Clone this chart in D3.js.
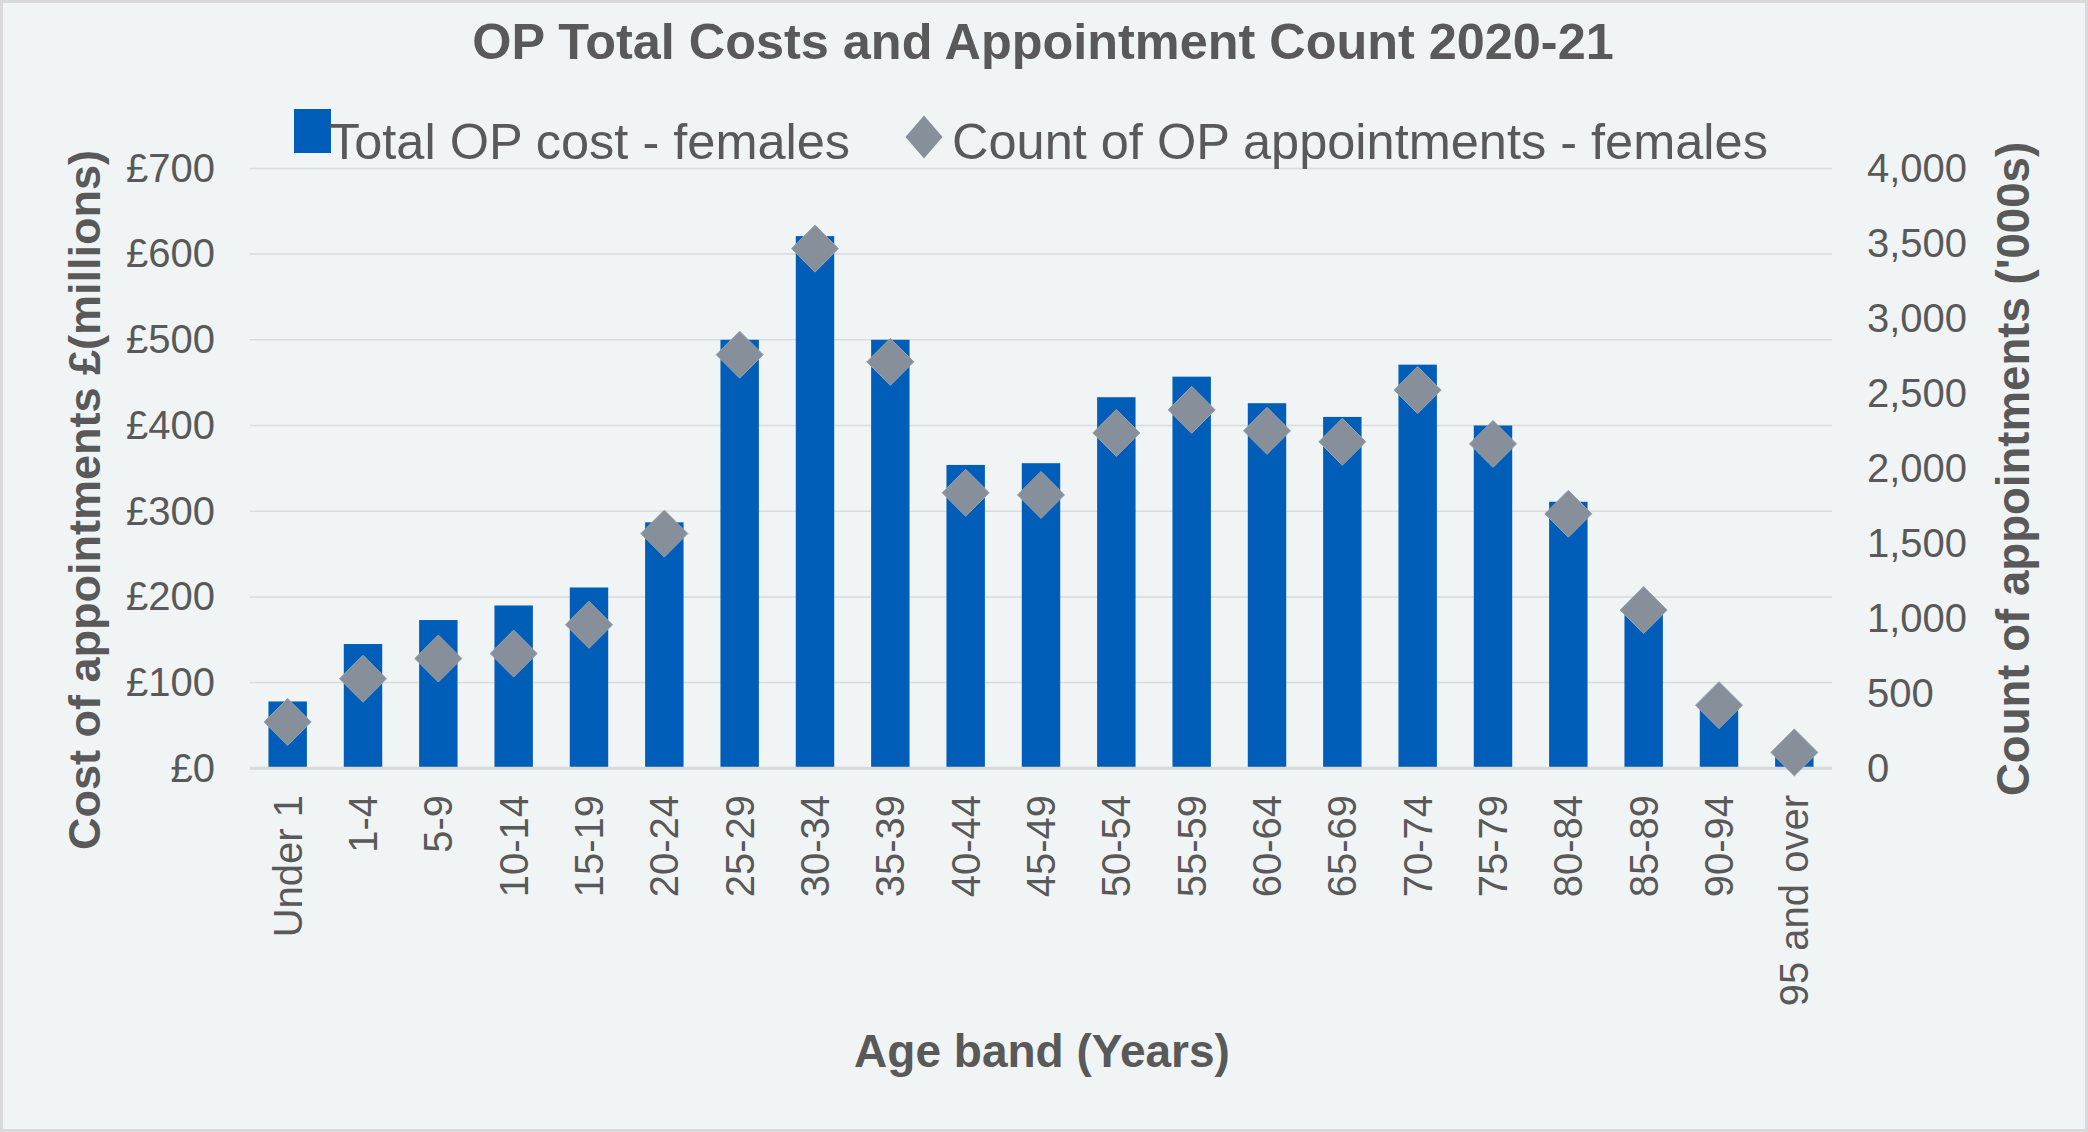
<!DOCTYPE html>
<html>
<head>
<meta charset="utf-8">
<script src="https://cdn.jsdelivr.net/npm/d3@7"></script>
<style>
  html, body { margin: 0; padding: 0; background: #F0F4F5; }
  svg { display: block; font-family: "Liberation Sans", Arial, sans-serif; }
</style>
</head>
<body>
<svg id="chart"></svg>
<script>
// Age bands along the bottom
const categories = ["Under 1", "1-4", "5-9", "10-14", "15-19", "20-24", "25-29", "30-34", "35-39",
    "40-44", "45-49", "50-54", "55-59", "60-64", "65-69", "70-74", "75-79", "80-84", "85-89",
    "90-94", "95 and over"];

// Total OP cost - females, £ millions
const costValues = [78, 145, 173, 190, 211, 287, 500, 621, 500, 354, 356, 433, 457, 426, 410,
    471, 400, 311, 190, 78, 16];

// Count of OP appointments - females, '000s
const countValues = [309, 597, 732, 765, 957, 1565, 2758, 3465, 2710, 1837, 1823, 2236, 2390,
    2250, 2177, 2522, 2163, 1697, 1055, 421, 106];

const leftTicks = [0, 100, 200, 300, 400, 500, 600, 700];
const rightTicks = [0, 500, 1000, 1500, 2000, 2500, 3000, 3500, 4000];

const seriesNames = ["Total OP cost - females", "Count of OP appointments - females"];

// Canvas settings
const width = 2088;
const height = 1132;
const margin = {top: 168.4, right: 256, bottom: 363.7, left: 250};

const BAR_COLOR = '#005EB8';
const MARKER_COLOR = '#87909A';
const TEXT_COLOR = '#595959';
const GRID_COLOR = '#D9DBDD';
const DIAMOND = 23.5; // half diagonal

const svg = d3.select('svg#chart')
    .attr('width', width)
    .attr('height', height);

// background and outer border
svg.append('rect')
    .attr('x', 1.5).attr('y', 1.5)
    .attr('width', width - 3).attr('height', height - 3)
    .attr('fill', '#F0F4F5')
    .attr('stroke', '#D9D9D9')
    .attr('stroke-width', 3);

const x = d3.scaleBand()
    .domain(categories)
    .range([margin.left, width - margin.right])
    .paddingInner(0.49)
    .paddingOuter(0.245);

const yLeft = d3.scaleLinear()
    .domain([0, 700])
    .range([height - margin.bottom, margin.top]);

const yRight = d3.scaleLinear()
    .domain([0, 4000])
    .range([height - margin.bottom, margin.top]);

// Gridlines (from the left axis)
svg.append('g')
    .selectAll('line')
    .data(leftTicks.slice(1))
    .enter().append('line')
    .attr('x1', margin.left)
    .attr('x2', width - margin.right)
    .attr('y1', d => yLeft(d))
    .attr('y2', d => yLeft(d))
    .attr('stroke', GRID_COLOR)
    .attr('stroke-width', 1.5);

// Bars
svg.append('g')
    .selectAll('rect')
    .data(costValues)
    .enter().append('rect')
    .attr('x', (d, i) => x(categories[i]))
    .attr('width', x.bandwidth())
    .attr('y', d => yLeft(d))
    .attr('height', d => yLeft(0) - yLeft(d))
    .attr('fill', BAR_COLOR);

// Baseline
svg.append('line')
    .attr('x1', margin.left)
    .attr('x2', width - margin.right)
    .attr('y1', yLeft(0))
    .attr('y2', yLeft(0))
    .attr('stroke', '#D9D9D9')
    .attr('stroke-width', 3);

function diamond(cx, cy, rx, ry) {
    return `M${cx},${cy - ry}L${cx + rx},${cy}L${cx},${cy + ry}L${cx - rx},${cy}Z`;
}

// Markers
svg.append('g')
    .selectAll('path')
    .data(countValues)
    .enter().append('path')
    .attr('d', (d, i) => diamond(x(categories[i]) + x.bandwidth() / 2, yRight(d), DIAMOND, DIAMOND))
    .attr('fill', MARKER_COLOR)
    .attr('stroke', '#98A0AA')
    .attr('stroke-width', 1);

// Left axis
const leftAxis = svg.append('g')
    .attr('transform', `translate(${margin.left},0)`)
    .call(d3.axisLeft(yLeft).tickValues(leftTicks).tickSize(0).tickPadding(35)
        .tickFormat(d => '£' + d));

// Right axis
const rightAxis = svg.append('g')
    .attr('transform', `translate(${width - margin.right},0)`)
    .call(d3.axisRight(yRight).tickValues(rightTicks).tickSize(0).tickPadding(35)
        .tickFormat(d3.format(',')));

[leftAxis, rightAxis].forEach(ax => {
    ax.select('.domain').remove();
    ax.selectAll('text')
        .attr('font-size', 40)
        .attr('font-family', '"Liberation Sans", Arial, sans-serif')
        .attr('fill', TEXT_COLOR);
});

// Category labels
svg.append('g')
    .selectAll('text')
    .data(categories)
    .enter().append('text')
    .attr('transform', d => `translate(${x(d) + x.bandwidth() / 2},795) rotate(-90)`)
    .attr('dy', '0.35em')
    .attr('text-anchor', 'end')
    .attr('font-size', 40)
    .attr('fill', TEXT_COLOR)
    .text(d => d);

// Title
svg.append('text')
    .attr('x', 1043)
    .attr('y', 59)
    .attr('text-anchor', 'middle')
    .attr('font-size', 50.4)
    .attr('font-weight', 'bold')
    .attr('fill', TEXT_COLOR)
    .text('OP Total Costs and Appointment Count 2020-21');

// Axis titles
svg.append('text')
    .attr('transform', 'translate(99.5,500) rotate(-90)')
    .attr('text-anchor', 'middle')
    .attr('font-size', 45)
    .attr('font-weight', 'bold')
    .attr('fill', TEXT_COLOR)
    .text('Cost of appointments £(millions)');

svg.append('text')
    .attr('transform', 'translate(2029,469) rotate(-90)')
    .attr('text-anchor', 'middle')
    .attr('font-size', 45.6)
    .attr('font-weight', 'bold')
    .attr('fill', TEXT_COLOR)
    .text("Count of appointments ('000s)");

svg.append('text')
    .attr('x', 1042)
    .attr('y', 1067)
    .attr('text-anchor', 'middle')
    .attr('font-size', 46)
    .attr('font-weight', 'bold')
    .attr('fill', TEXT_COLOR)
    .text('Age band (Years)');

// Legend
const legend = svg.append('g');
legend.append('rect')
    .attr('x', 294).attr('y', 109)
    .attr('width', 37).attr('height', 44)
    .attr('fill', BAR_COLOR);
legend.append('text')
    .attr('x', 329).attr('y', 159)
    .attr('font-size', 50.5)
    .attr('fill', TEXT_COLOR)
    .text(seriesNames[0]);
legend.append('path')
    .attr('d', diamond(924, 137, 18.5, 21.5))
    .attr('fill', MARKER_COLOR);
legend.append('text')
    .attr('x', 952).attr('y', 159)
    .attr('font-size', 50.5)
    .attr('fill', TEXT_COLOR)
    .text(seriesNames[1]);
</script>
</body>
</html>
